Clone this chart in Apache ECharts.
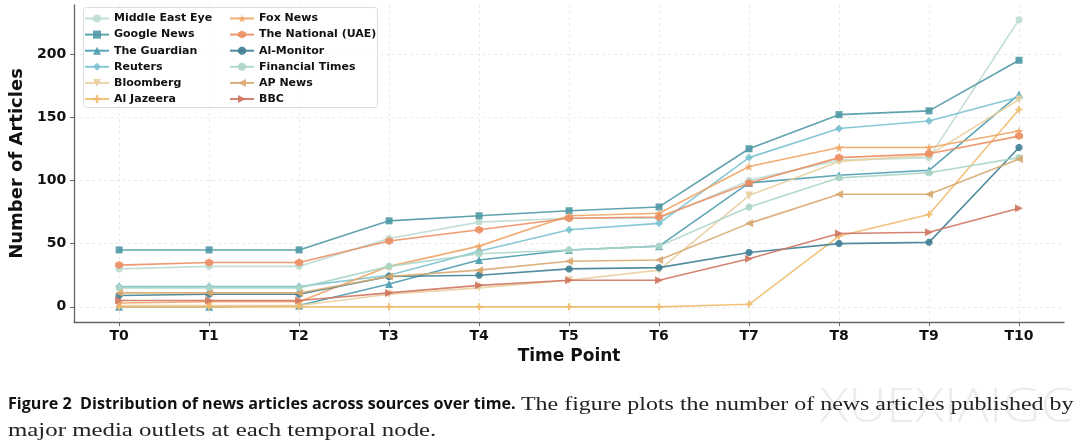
<!DOCTYPE html>
<html>
<head>
<meta charset="utf-8">
<script src="https://cdn.jsdelivr.net/npm/echarts@6/dist/echarts.min.js"></script>
<style>
html,body{margin:0;padding:0;background:#fff;}
#c{width:1080px;height:445px;}
</style>
</head>
<body>
<div id="c"></div>
<script>
const categories = ['T0','T1','T2','T3','T4','T5','T6','T7','T8','T9','T10'];
const yTicks = [0, 50, 100, 150, 200];
const sourceNames = ['Middle East Eye','Google News','The Guardian','Reuters','Bloomberg','Al Jazeera',
  'Fox News','The National (UAE)','Al-Monitor','Financial Times','AP News','BBC'];

const middleEastEye  = [30, 32, 32, 54, 67, 70, 70, 100, 116, 118, 227];
const googleNews     = [45, 45, 45, 68, 72, 76, 79, 125, 152, 155, 195];
const theGuardian    = [0, 0, 1, 18, 37, 45, 48, 98, 104, 108, 168];
const reuters        = [16, 16, 16, 25, 44, 61, 66, 118, 141, 147, 166];
const bloomberg      = [1, 1, 1, 10, 15, 21, 29, 88, 115, 120, 164];
const alJazeera      = [0, 0, 0, 0, 0, 0, 0, 2, 56, 73, 156];
const foxNews        = [3, 4, 4, 32, 48, 72, 74, 111, 126, 126, 139];
const theNational    = [33, 35, 35, 52, 61, 70, 71, 98, 118, 121, 135];
const alMonitor      = [9, 10, 10, 24, 25, 30, 31, 43, 50, 51, 126];
const financialTimes = [15, 15, 15, 32, 42, 45, 48, 79, 102, 106, 118];
const apNews         = [11, 11, 11, 24, 29, 36, 37, 66, 89, 89, 117];
const bbc            = [5, 5, 5, 11, 17, 21, 21, 38, 58, 59, 78];

const seriesValues = [middleEastEye, googleNews, theGuardian, reuters, bloomberg, alJazeera,
  foxNews, theNational, alMonitor, financialTimes, apNews, bbc];

const colors = ['#bddbd2','#4f98a4','#4a9cb0','#7ac2d0','#e8cf9f','#f1bb6e',
  '#efa565','#ec8e63','#3f7f93','#abd5c6','#d8a86f','#cf7762'];

const star = 'path://M50,0 L61,35 L98,35 L68,57 L79,91 L50,70 L21,91 L32,57 L2,35 L39,35 Z';
const plus = 'path://M35,0 L65,0 L65,35 L100,35 L100,65 L65,65 L65,100 L35,100 L35,65 L0,65 L0,35 L35,35 Z';
const hexagon = 'path://M50,0 L93,25 L93,75 L50,100 L7,75 L7,25 Z';
const octagon = 'path://M30,0 L70,0 L100,30 L100,70 L70,100 L30,100 L0,70 L0,30 Z';
const symbols = ['circle','rect','triangle','diamond','triangle',plus,star,hexagon,octagon,'circle','triangle','triangle'];
const rotations = [0,0,0,0,180,0,0,0,0,0,90,-90];
const sizes = [7,7,8,8,8,7,9,8,7,7,8,8];

const series = sourceNames.map((name, k) => ({
  name: name,
  type: 'line',
  data: categories.map((c, i) => [i, seriesValues[k][i]]),
  symbol: symbols[k],
  symbolRotate: rotations[k],
  symbolSize: sizes[k],
  showSymbol: true,
  lineStyle: {width: 1.6, color: colors[k], opacity: 0.9},
  itemStyle: {color: colors[k], opacity: 0.9},
  emphasis: {disabled: true},
  z: 2 + k
}));

const chart = echarts.init(document.getElementById('c'), null, {renderer: 'canvas'});
const legendText = {fontFamily: 'DejaVu Sans', fontWeight: 'bold', fontSize: 11, color: '#111'};
chart.setOption({
  animation: false,
  backgroundColor: '#fff',
  color: colors,
  grid: {left: 74, right: 16, top: 5, bottom: 123, containLabel: false},
  legend: [
    {data: sourceNames.slice(0, 6), orient: 'vertical', left: 84, top: 13, itemWidth: 24, itemHeight: 10,
     itemGap: 5.1, textStyle: legendText, selectedMode: false, padding: 0, z: 100},
    {data: sourceNames.slice(6), orient: 'vertical', left: 229, top: 13, itemWidth: 24, itemHeight: 10,
     itemGap: 5.1, textStyle: legendText, selectedMode: false, padding: 0, z: 100}
  ],
  xAxis: {
    type: 'value', min: -0.5, max: 10.5,
    name: 'Time Point', nameLocation: 'middle', nameGap: 26,
    nameTextStyle: {fontFamily: 'DejaVu Sans', fontWeight: 'bold', fontSize: 17, color: '#111'},
    axisLine: {show: true, onZero: false, lineStyle: {color: '#666', width: 1.3}},
    axisTick: {show: true, length: 4, lineStyle: {color: '#666'}, customValues: categories.map((c, i) => i)},
    axisLabel: {customValues: categories.map((c, i) => i), formatter: v => categories[v] || '',
      fontFamily: 'DejaVu Sans', fontWeight: 'bold', fontSize: 14, color: '#111', margin: 7},
    splitLine: {show: true, lineStyle: {color: '#e6e6e6', type: [3, 3], width: 0.8}}
  },
  yAxis: {
    type: 'value', min: -12, max: 238.7,
    name: 'Number of Articles', nameLocation: 'middle', nameGap: 42, nameRotate: 90,
    nameTextStyle: {fontFamily: 'DejaVu Sans', fontWeight: 'bold', fontSize: 18, color: '#111'},
    axisLine: {show: true, onZero: false, lineStyle: {color: '#666', width: 1.3}},
    axisTick: {show: true, length: 4, lineStyle: {color: '#666'}, customValues: yTicks},
    axisLabel: {customValues: yTicks, fontFamily: 'DejaVu Sans', fontWeight: 'bold', fontSize: 14, color: '#111', margin: 8},
    splitLine: {show: true, lineStyle: {color: '#e6e6e6', type: [3, 3], width: 0.8}}
  },
  graphic: [
    {type: 'rect', left: 83, top: 7, shape: {width: 294, height: 100, r: 3},
     style: {fill: 'rgba(255,255,255,0.85)', stroke: '#dddddd', lineWidth: 1}, z: 50, silent: true},
    {type: 'text', x: 820, y: 384, z: 0, scaleX: 1.1,
     style: {text: 'XUEXIAIGC', font: '300 48px "Open Sans"', fill: '#ececec'}},
    {type: 'text', x: 8, y: 397, z: 10, scaleX: 1.04,
     style: {text: 'Figure 2  Distribution of news articles across sources over time.',
       font: 'bold 15.5px "Open Sans", sans-serif', fill: '#111'}},
    {type: 'text', x: 521, y: 396, z: 10, scaleX: 1.33,
     style: {text: 'The figure plots the number of news articles published by',
       font: '18px "Liberation Serif", serif', fill: '#222'}},
    {type: 'text', x: 8, y: 422, z: 10, scaleX: 1.38,
     style: {text: 'major media outlets at each temporal node.',
       font: '18px "Liberation Serif", serif', fill: '#222'}}
  ],
  series: series
});
</script>
</body>
</html>
